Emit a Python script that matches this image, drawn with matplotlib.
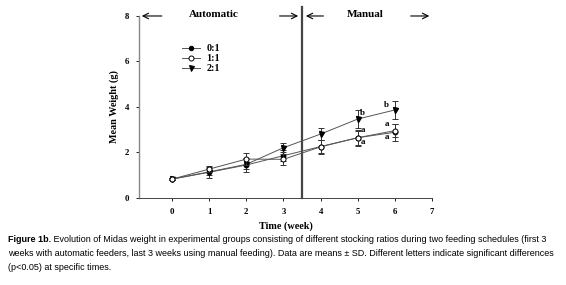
import matplotlib
matplotlib.use("Agg")
import matplotlib.pyplot as plt

weeks = [0, 1, 2, 3, 4, 5, 6]
g01 = [0.83, 1.13, 1.45, 1.86, 2.26, 2.65, 2.89]
g11 = [0.83, 1.27, 1.71, 1.70, 2.25, 2.65, 2.96]
g21 = [0.83, 1.15, 1.48, 2.21, 2.81, 3.47, 3.87]
sd01 = [0.04, 0.25, 0.30, 0.25, 0.30, 0.30, 0.38]
sd11 = [0.04, 0.12, 0.25, 0.25, 0.30, 0.35, 0.30]
sd21 = [0.04, 0.15, 0.22, 0.20, 0.25, 0.40, 0.40]
labels = ["0:1", "1:1", "2:1"]
letters = [(5.13, 3.72, "b"), (5.13, 2.97, "a"), (5.13, 2.47, "a"),
           (5.78, 4.10, "b"), (5.80, 3.25, "a"), (5.80, 2.70, "a")]
caption_bold = "Figure 1b."
caption_line1 = " Evolution of Midas weight in experimental groups consisting of different stocking ratios during two feeding schedules (first 3"
caption_line2 = "weeks with automatic feeders, last 3 weeks using manual feeding). Data are means \u00b1 SD. Different letters indicate significant differences"
caption_line3 = "(p<0.05) at specific times."

serif = "Liberation Serif"
fig = plt.figure(figsize=(5.66, 2.85), dpi=100)
ax = fig.add_axes([0.2456, 0.3053, 0.5177, 0.6386])

lc = "#555555"
ebk = dict(elinewidth=0.7, capsize=2.5, capthick=0.7, ecolor="#333333")
ax.errorbar(weeks, g01, yerr=sd01, color=lc, lw=0.7, marker="o", ms=3.2,
            mfc="black", mec="black", **ebk, label=labels[0], zorder=3)
ax.errorbar(weeks, g11, yerr=sd11, color=lc, lw=0.7, marker="o", ms=3.6,
            mfc="white", mec="black", mew=0.7, **ebk, label=labels[1], zorder=4)
ax.errorbar(weeks, g21, yerr=sd21, color=lc, lw=0.7, marker="v", ms=3.6,
            mfc="black", mec="black", **ebk, label=labels[2], zorder=3)

for x, y, t in letters:
    ax.text(x, y, t, fontsize=6.5, fontfamily=serif, fontweight="bold",
            ha="center", va="center")

# legend drawn manually in data coords
leg_y = [6.58, 6.14, 5.70]
leg_m = [("o", "black", 3.2), ("o", "white", 3.6), ("v", "black", 3.6)]
for yy, (m, fc, s), lab in zip(leg_y, leg_m, labels):
    ax.plot([0.27, 0.75], [yy, yy], color=lc, lw=0.7)
    ax.plot([0.51], [yy], marker=m, mfc=fc, mec="black", ms=s, mew=0.7)
    ax.text(0.92, yy, lab, fontsize=7.3, fontfamily=serif, fontweight="bold",
            va="center", ha="left")

ax.plot([3.5, 3.5], [0, 8.4], color="#444444", lw=1.6, clip_on=False)

ap = dict(arrowstyle="->", lw=0.8, color="black", mutation_scale=10)
ax.annotate("", xy=(-0.89, 8.0), xytext=(-0.2, 8.0), arrowprops=ap, annotation_clip=False)
ax.annotate("", xy=(3.47, 8.0), xytext=(2.82, 8.0), arrowprops=ap, annotation_clip=False)
ax.annotate("", xy=(3.53, 8.0), xytext=(4.15, 8.0), arrowprops=ap, annotation_clip=False)
ax.annotate("", xy=(7.0, 8.0), xytext=(6.35, 8.0), arrowprops=ap, annotation_clip=False)
ax.text(1.12, 8.05, "Automatic", fontsize=8, fontfamily=serif, fontweight="bold",
        ha="center", va="center")
ax.text(5.2, 8.05, "Manual", fontsize=8, fontfamily=serif, fontweight="bold",
        ha="center", va="center")

ax.set_xlim(-0.89, 7.0)
ax.set_ylim(0, 8)
ax.set_xticks(range(0, 8))
ax.set_yticks([0, 2, 4, 6, 8])
for s in ["top", "right"]:
    ax.spines[s].set_visible(False)
ax.spines["left"].set_color("#888888")
ax.spines["left"].set_linewidth(1.0)
ax.spines["bottom"].set_color("#444444")
ax.spines["bottom"].set_linewidth(0.7)
ax.tick_params(direction="out", length=2.5, width=0.6, labelsize=6.3, pad=4.5)
for lbl in ax.get_xticklabels() + ax.get_yticklabels():
    lbl.set_fontfamily(serif)
    lbl.set_fontweight("bold")
ax.set_xlabel("Time (week)", fontsize=7.3, fontfamily=serif, fontweight="bold", labelpad=4)
ax.set_ylabel("Mean Weight (g)", fontsize=7.3, fontfamily=serif, fontweight="bold", labelpad=4)

cap_fs = 6.5
capfont = "Liberation Sans"
x0 = 0.014
tb = fig.text(x0, 1 - 240 / 285, caption_bold, fontsize=cap_fs, fontfamily=capfont,
              fontweight="bold", ha="left", va="center")
ax.annotate(caption_line1, xy=(1, 0.5), xycoords=tb, fontsize=cap_fs,
            fontfamily=capfont, ha="left", va="center", annotation_clip=False)
fig.text(x0, 1 - 254 / 285, caption_line2, fontsize=cap_fs, fontfamily=capfont,
         ha="left", va="center")
fig.text(x0, 1 - 267 / 285, caption_line3, fontsize=cap_fs, fontfamily=capfont,
         ha="left", va="center")

fig.savefig("out.png", dpi=100)
